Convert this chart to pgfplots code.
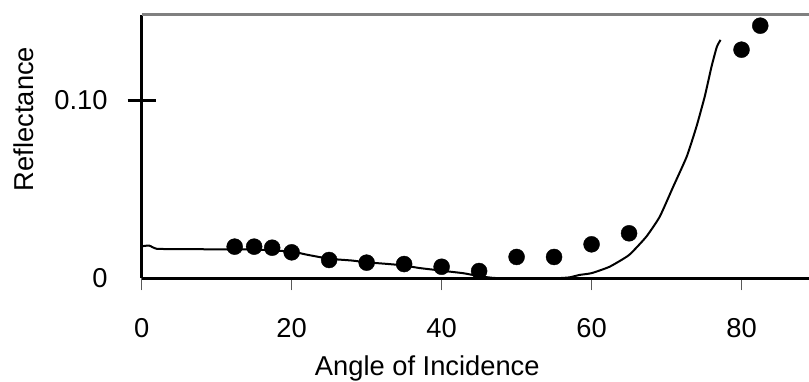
\documentclass[border=0pt]{standalone}
\usepackage{fontspec}
\setmainfont{Liberation Sans}
\usepackage{pgfplots}
\pgfplotsset{compat=1.18}
\begin{document}
\begin{tikzpicture}
\begin{axis}[
  scale only axis,
  width=667.3bp, height=263.3bp,
  xmin=0, xmax=89, ymin=0, ymax=0.148,
  axis x line=bottom, axis y line=left,
  axis line style={-, line width=3bp, black},
  xtick={0,20,40,60,80},
  ytick={0,0.1}, yticklabels={0,0.10},
  tick align=outside,
  major tick length=12bp,
  xtick style={draw=gray!70!black, line width=1bp},
  ytick style={draw=none},
  /pgf/number format/assume math mode=true,
  tick label style={font=\fontsize{27.3bp}{32bp}\selectfont},
  xticklabel style={anchor=north, inner sep=0pt, yshift=-28bp},
  yticklabel style={anchor=east, inner sep=0pt, xshift=-22bp},
  label style={font=\fontsize{27.3bp}{32bp}\selectfont},
  xlabel={Angle of Incidence},
  xlabel style={at={(axis description cs:0.428,-0.371)}, anchor=base},
  ylabel={Reflectance},
  ylabel style={at={(axis description cs:-0.1764,0.605)}, anchor=center, rotate=0},
  clip=false,
]
\addplot[black, line width=2bp, smooth, tension=0.3] coordinates {
(0,0.0180) (1,0.0184) (2,0.0166) (5,0.0164) (10,0.0163) (15,0.0162)
(20,0.0150) (22,0.0133) (25,0.0110) (28,0.0100) (30,0.0090) (33,0.0080)
(35,0.0072) (37,0.0058) (39,0.0048) (41,0.0038) (43,0.0028) (45,0.0012)
(47,0.0002) (50,0.0) (55,0.0) (57,0.0005) (58.4,0.0019) (60,0.0029)
(62.4,0.0065) (65,0.0131) (67.3,0.0234) (69.1,0.0347) (70.9,0.0516)
(72.7,0.0685) (74.0,0.0854) (75.1,0.1023) (76.0,0.119) (76.7,0.130) (77.2,0.134)
};
\addplot[only marks, mark=*, mark size=8bp, black] coordinates {
(12.4,0.0178) (15,0.0178) (17.4,0.0172) (20,0.0146) (25,0.0103) (30,0.0088)
(35,0.0080) (40,0.0065) (45,0.0041) (50,0.0120) (55,0.0120) (60,0.0191)
(65,0.0253) (80,0.1285) (82.5,0.1420)
};
\draw[gray, line width=3bp] (axis description cs:0,1) -- (axis description cs:1,1);
\draw[black, line width=3bp] (axis cs:0,0.1) ++(-14bp,0) -- ++(28bp,0);
\end{axis}
\pgfresetboundingbox
\path (current axis.south west) ++(-141.7bp,-102.7bp) coordinate (bbsw);
\path (current axis.north east) ++(0bp,15bp) coordinate (bbne);
\useasboundingbox (bbsw) rectangle (bbne);
\end{tikzpicture}
\end{document}
